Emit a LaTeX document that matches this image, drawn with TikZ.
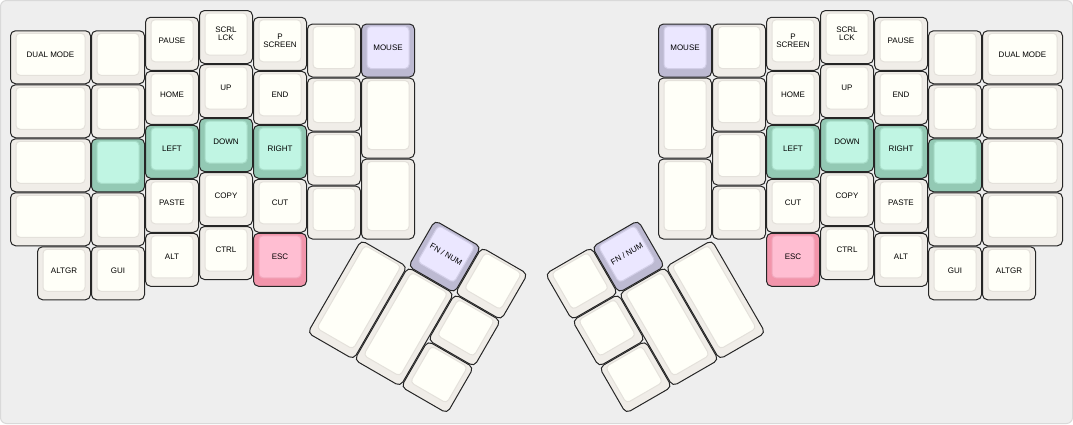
\documentclass[tikz,border=0pt]{standalone}
\usepackage{fontspec}
\setmainfont{Liberation Sans}

\definecolor{bgfill}{HTML}{EEEEEE}
\definecolor{bgline}{HTML}{D9D9D9}
\definecolor{plaincap}{HTML}{F0EDE8}
\definecolor{plaintop}{HTML}{FFFFF8}
\definecolor{plainline}{HTML}{E4E1DB}
\definecolor{greencap}{HTML}{93C9B4}
\definecolor{greentop}{HTML}{C0F5E3}
\definecolor{greenline}{HTML}{A8DDC9}
\definecolor{pinkcap}{HTML}{F295AB}
\definecolor{pinktop}{HTML}{FFBED2}
\definecolor{pinkline}{HTML}{F2A9BE}
\definecolor{purplecap}{HTML}{BDBAD2}
\definecolor{purpletop}{HTML}{EBE7FF}
\definecolor{purpleline}{HTML}{D3CFE8}

\tikzset{
  keycap/.style={rectangle, rounded corners=5pt, draw=black!85, line width=1pt, inner sep=0pt},
  keytop/.style={rectangle, rounded corners=4pt, line width=1pt, inner sep=0pt},
  keylabel/.style={inner sep=0pt, align=center, font=\fontsize{8}{8.3}\selectfont, text=black},
}

% name, x, y, w, h, colour, label (x, y, w, h in key units)
\newcommand\kbkey[7]{%
  \node (#1c) [keycap, fill=#6cap, minimum width=#4*54pt-1pt, minimum height=#5*54pt-1pt] at (#2+#4/2, {-(#3+#5/2)}) {};
  \node (#1t) [keytop, fill=#6top, draw=#6line, minimum width=#4*54pt-12pt, minimum height=#5*54pt-12pt] at (#2+#4/2, {-(#3+#5/2)+3/54}) {};
  \node (#1) [keylabel] at (#1t.center) {#7};
}

\begin{document}
\begin{tikzpicture}[x=54pt, y=54pt]
\useasboundingbox (-10pt,10pt) rectangle (1063pt,-414pt);
\draw [rounded corners=6pt, fill=bgfill, draw=bgline, line width=1pt] (-9.5pt,9.5pt) rectangle (1062.5pt,-413.5pt);

% left hand
\kbkey{ldual}{0}{0.375}{1.5}{1}{plain}{DUAL MODE}
\kbkey{la1}{0}{1.375}{1.5}{1}{plain}{}
\kbkey{la2}{0}{2.375}{1.5}{1}{plain}{}
\kbkey{la3}{0}{3.375}{1.5}{1}{plain}{}
\kbkey{laltgr}{0.5}{4.375}{1}{1}{plain}{ALTGR}
\kbkey{lb0}{1.5}{0.375}{1}{1}{plain}{}
\kbkey{lb1}{1.5}{1.375}{1}{1}{plain}{}
\kbkey{lb2}{1.5}{2.375}{1}{1}{green}{}
\kbkey{lb3}{1.5}{3.375}{1}{1}{plain}{}
\kbkey{lgui}{1.5}{4.375}{1}{1}{plain}{GUI}
\kbkey{lpause}{2.5}{0.125}{1}{1}{plain}{PAUSE}
\kbkey{lhome}{2.5}{1.125}{1}{1}{plain}{HOME}
\kbkey{lleft}{2.5}{2.125}{1}{1}{green}{LEFT}
\kbkey{lpaste}{2.5}{3.125}{1}{1}{plain}{PASTE}
\kbkey{lalt}{2.5}{4.125}{1}{1}{plain}{ALT}
\kbkey{lscrl}{3.5}{0}{1}{1}{plain}{SCRL\\LCK}
\kbkey{lup}{3.5}{1}{1}{1}{plain}{UP}
\kbkey{ldown}{3.5}{2}{1}{1}{green}{DOWN}
\kbkey{lcopy}{3.5}{3}{1}{1}{plain}{COPY}
\kbkey{lctrl}{3.5}{4}{1}{1}{plain}{CTRL}
\kbkey{lprint}{4.5}{0.125}{1}{1}{plain}{P\\SCREEN}
\kbkey{lend}{4.5}{1.125}{1}{1}{plain}{END}
\kbkey{lright}{4.5}{2.125}{1}{1}{green}{RIGHT}
\kbkey{lcut}{4.5}{3.125}{1}{1}{plain}{CUT}
\kbkey{lesc}{4.5}{4.125}{1}{1}{pink}{ESC}
\kbkey{lf0}{5.5}{0.25}{1}{1}{plain}{}
\kbkey{lf1}{5.5}{1.25}{1}{1}{plain}{}
\kbkey{lf2}{5.5}{2.25}{1}{1}{plain}{}
\kbkey{lf3}{5.5}{3.25}{1}{1}{plain}{}
\kbkey{lmouse}{6.5}{0.25}{1}{1}{purple}{MOUSE}
\kbkey{lg1}{6.5}{1.25}{1}{1.5}{plain}{}
\kbkey{lg2}{6.5}{2.75}{1}{1.5}{plain}{}

% left thumb cluster
\begin{scope}[shift={(6.5,-4.25)}, rotate=-30, transform shape]
\kbkey{lfn}{1}{-1}{1}{1}{purple}{FN / NUM}
\kbkey{lt1}{2}{-1}{1}{1}{plain}{}
\kbkey{lt2}{0}{0}{1}{2}{plain}{}
\kbkey{lt3}{1}{0}{1}{2}{plain}{}
\kbkey{lt4}{2}{0}{1}{1}{plain}{}
\kbkey{lt5}{2}{1}{1}{1}{plain}{}
\end{scope}

% right hand
\kbkey{rdual}{18}{0.375}{1.5}{1}{plain}{DUAL MODE}
\kbkey{ra1}{18}{1.375}{1.5}{1}{plain}{}
\kbkey{ra2}{18}{2.375}{1.5}{1}{plain}{}
\kbkey{ra3}{18}{3.375}{1.5}{1}{plain}{}
\kbkey{raltgr}{18}{4.375}{1}{1}{plain}{ALTGR}
\kbkey{rb0}{17}{0.375}{1}{1}{plain}{}
\kbkey{rb1}{17}{1.375}{1}{1}{plain}{}
\kbkey{rb2}{17}{2.375}{1}{1}{green}{}
\kbkey{rb3}{17}{3.375}{1}{1}{plain}{}
\kbkey{rgui}{17}{4.375}{1}{1}{plain}{GUI}
\kbkey{rpause}{16}{0.125}{1}{1}{plain}{PAUSE}
\kbkey{rend}{16}{1.125}{1}{1}{plain}{END}
\kbkey{rright}{16}{2.125}{1}{1}{green}{RIGHT}
\kbkey{rpaste}{16}{3.125}{1}{1}{plain}{PASTE}
\kbkey{ralt}{16}{4.125}{1}{1}{plain}{ALT}
\kbkey{rscrl}{15}{0}{1}{1}{plain}{SCRL\\LCK}
\kbkey{rup}{15}{1}{1}{1}{plain}{UP}
\kbkey{rdown}{15}{2}{1}{1}{green}{DOWN}
\kbkey{rcopy}{15}{3}{1}{1}{plain}{COPY}
\kbkey{rctrl}{15}{4}{1}{1}{plain}{CTRL}
\kbkey{rprint}{14}{0.125}{1}{1}{plain}{P\\SCREEN}
\kbkey{rhome}{14}{1.125}{1}{1}{plain}{HOME}
\kbkey{rleft}{14}{2.125}{1}{1}{green}{LEFT}
\kbkey{rcut}{14}{3.125}{1}{1}{plain}{CUT}
\kbkey{resc}{14}{4.125}{1}{1}{pink}{ESC}
\kbkey{rf0}{13}{0.25}{1}{1}{plain}{}
\kbkey{rf1}{13}{1.25}{1}{1}{plain}{}
\kbkey{rf2}{13}{2.25}{1}{1}{plain}{}
\kbkey{rf3}{13}{3.25}{1}{1}{plain}{}
\kbkey{rmouse}{12}{0.25}{1}{1}{purple}{MOUSE}
\kbkey{rg1}{12}{1.25}{1}{1.5}{plain}{}
\kbkey{rg2}{12}{2.75}{1}{1.5}{plain}{}

% right thumb cluster
\begin{scope}[shift={(13,-4.25)}, rotate=30, transform shape]
\kbkey{rt1}{-3}{-1}{1}{1}{plain}{}
\kbkey{rfn}{-2}{-1}{1}{1}{purple}{FN / NUM}
\kbkey{rt2}{-3}{0}{1}{1}{plain}{}
\kbkey{rt3}{-2}{0}{1}{2}{plain}{}
\kbkey{rt4}{-1}{0}{1}{2}{plain}{}
\kbkey{rt5}{-3}{1}{1}{1}{plain}{}
\end{scope}
\end{tikzpicture}
\end{document}
